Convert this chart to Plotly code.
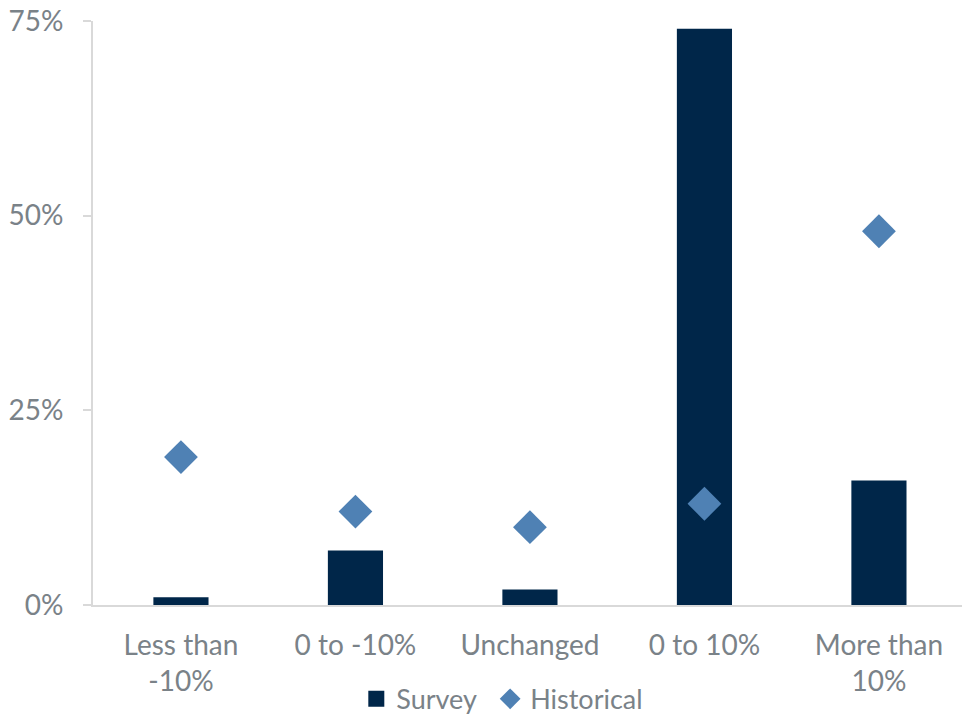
import plotly.graph_objects as go

categories = ["Less than<br>-10%", "0 to -10%", "Unchanged", "0 to 10%", "More than<br>10%"]
survey = [1, 7, 2, 74, 16]
historical = [19, 12, 10, 13, 48]
tick_vals = [0, 25, 50, 75]
tick_text = ["0%", "25%", "50%", "75%"]

bar_color = "#002649"
diamond_color = "#4f81b4"
font_color = "#7a8288"

fig = go.Figure()
fig.add_trace(go.Bar(x=categories, y=survey, name="Survey", showlegend=False,
                     legendgroup="s", marker=dict(color=bar_color, line=dict(width=0))))
fig.add_trace(go.Scatter(x=[None], y=[None], name="Survey", mode="markers", legendgroup="s",
                         legend="legend",
                         marker=dict(symbol="square", size=20, color=bar_color)))
fig.add_trace(go.Scatter(x=categories, y=historical, name="Historical", mode="markers",
                         legend="legend2",
                         marker=dict(symbol="diamond", size=26, color=diamond_color)))

legend_common = dict(orientation="h", xanchor="left", yref="container", y=0.022,
                     yanchor="middle", font=dict(size=27, color=font_color), itemwidth=30,
                     itemsizing="trace", bgcolor="rgba(0,0,0,0)")

fig.update_layout(
    width=962, height=715,
    margin=dict(l=93, r=0, t=21, b=110, autoexpand=False),
    paper_bgcolor="white", plot_bgcolor="white",
    font=dict(family="Lato, 'Source Sans Pro', 'Open Sans', sans-serif", size=28, color=font_color),
    bargap=0.684,
    showlegend=True,
    legend=dict(x=0.303, **legend_common),
    legend2=dict(x=0.457, **legend_common),
    xaxis=dict(showline=True, linecolor="#d9d9d9", linewidth=2, ticks="", showgrid=False,
               automargin=False, range=[-0.504, 4.476], ticklabelstandoff=14,
               tickfont=dict(size=28, color=font_color)),
    yaxis=dict(range=[0, 75], tickvals=tick_vals, ticktext=tick_text, showgrid=False,
               showline=True, linecolor="#d9d9d9", linewidth=2, ticks="outside",
               ticklen=8, tickcolor="#d9d9d9", tickwidth=2, zeroline=False,
               automargin=False, ticklabelstandoff=14,
               tickfont=dict(size=28, color=font_color)),
)
fig.write_html("out.html", post_script="document.body.style.margin='0';",
               config={"displayModeBar": False})
